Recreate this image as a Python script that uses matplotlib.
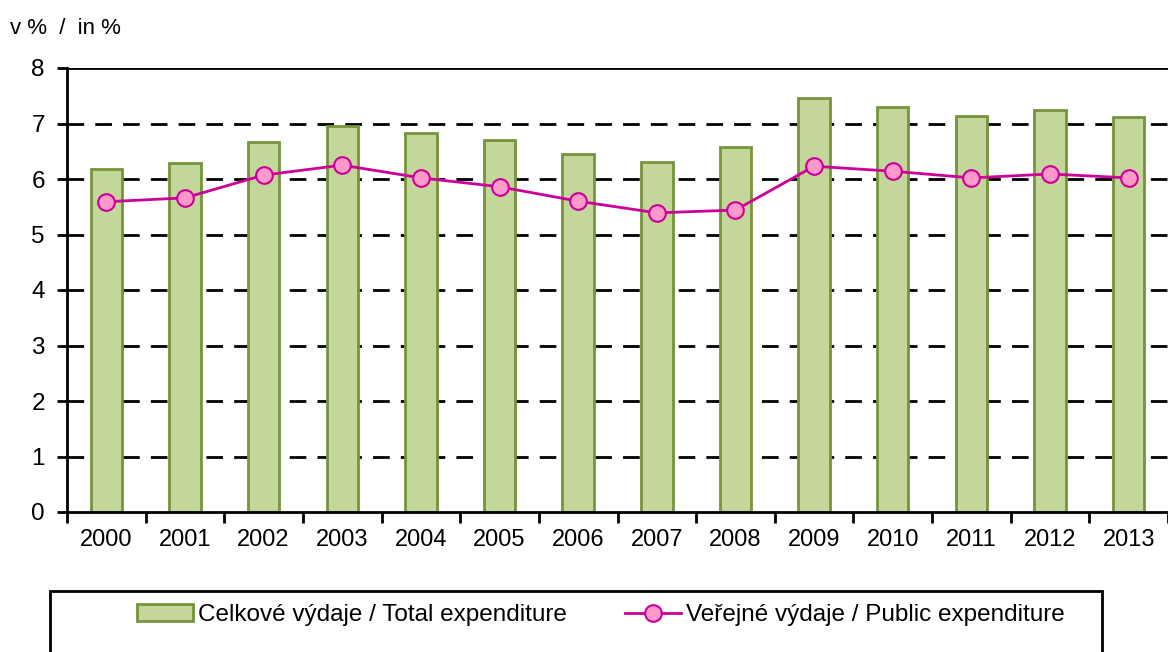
import matplotlib.pyplot as plt
import numpy as np
from matplotlib.patches import Rectangle

plt.rcParams['font.family'] = ['Liberation Sans', 'DejaVu Sans']

years = ["2000", "2001", "2002", "2003", "2004", "2005", "2006",
         "2007", "2008", "2009", "2010", "2011", "2012", "2013"]
total = [6.18, 6.29, 6.67, 6.95, 6.83, 6.70, 6.45,
         6.31, 6.58, 7.46, 7.30, 7.14, 7.24, 7.12]
public = [5.59, 5.66, 6.07, 6.25, 6.02, 5.86, 5.60,
          5.39, 5.44, 6.23, 6.14, 6.02, 6.09, 6.02]

fig = plt.figure(figsize=(11.68, 6.52), dpi=100)
ax = fig.add_axes([67/1168, 1 - 512/652, 1101/1168, (512 - 68)/652])

x = np.arange(len(years))
bars = ax.bar(x, total, width=0.4, color="#C4D79B", edgecolor="#77933C",
              linewidth=2, zorder=2)
line, = ax.plot(x, public, color="#CC0099", linewidth=2, marker="o", markersize=12,
                markerfacecolor="#FF99CC", markeredgecolor="#CC0099", markeredgewidth=1.5,
                zorder=3)

ax.set_xlim(-0.5, len(years) - 0.5)
ax.set_ylim(0, 8)

# dashed gridlines behind the bars
for v in range(1, 8):
    ax.axhline(v, color="black", linewidth=2, linestyle=(0, (6, 4)), zorder=1)
ax.axhline(8, color="black", linewidth=2, zorder=1)

for s in ["top", "right"]:
    ax.spines[s].set_visible(False)
ax.spines["left"].set_linewidth(2)
ax.spines["bottom"].set_linewidth(2)

ax.set_yticks(range(0, 9))
ax.tick_params(axis="y", direction="out", length=7, width=2, labelsize=17.5, pad=9)
ax.set_xticks(np.arange(-0.5, len(years), 1.0))
ax.set_xticklabels([])
ax.set_xticks(x, minor=True)
ax.set_xticklabels(years, minor=True)
ax.tick_params(axis="x", which="major", direction="out", length=8, width=2)
ax.tick_params(axis="x", which="minor", length=0, labelsize=17, pad=12)

fig.text(10/1168, 1 - 28/652, "v %  /  in %", fontsize=16, va="center", ha="left")

# legend frame
fig.patches.append(Rectangle((50/1168, -0.05), (1102 - 50)/1168, 1 - 591/652 + 0.05,
                             transform=fig.transFigure, fill=False,
                             edgecolor="black", linewidth=2))
fig.legend([bars, line],
           ["Celkové výdaje / Total expenditure", "Veřejné výdaje / Public expenditure"],
           loc="center", bbox_to_anchor=(601/1168, 1 - 615/652),
           ncol=2, frameon=False, fontsize=17.5, handlelength=2.3,
           handleheight=0.65, handletextpad=0.2, columnspacing=2.4)

fig.savefig("out.png", dpi=100)
